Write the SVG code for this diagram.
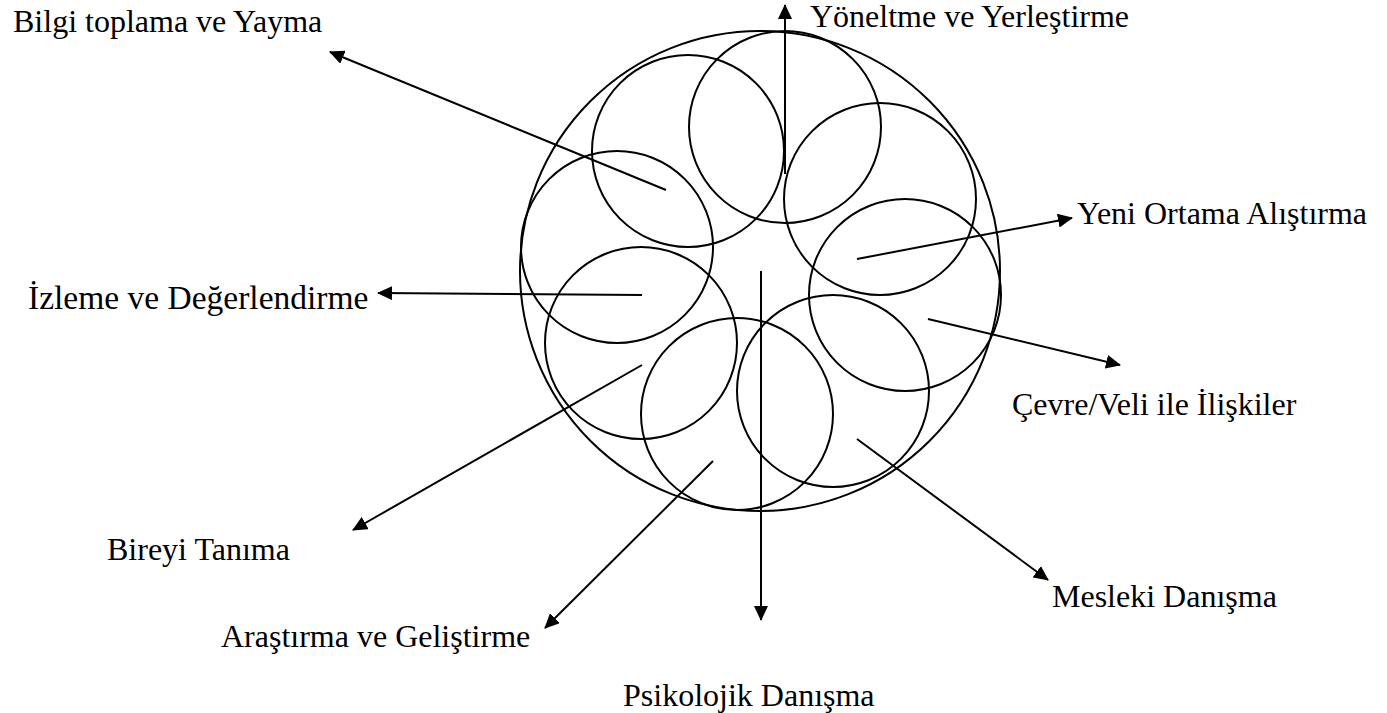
<svg xmlns="http://www.w3.org/2000/svg" width="1387" height="713" viewBox="0 0 1387 713">
<style>
.c{fill:none;stroke:#000;stroke-width:2}
.a{fill:none;stroke:#000;stroke-width:2;marker-end:url(#ah)}
.t{font-family:"Liberation Serif","Times New Roman",serif;font-size:32px;fill:#000}
</style>
<defs>
<marker id="ah" viewBox="0 0 15 14" refX="14" refY="7" markerWidth="15" markerHeight="14" markerUnits="userSpaceOnUse" orient="auto">
<path d="M0,0 L15,7 L0,14 Z" fill="#000"/>
</marker>
</defs>
<rect width="1387" height="713" fill="#fff"/>
<g id="outer"><circle class="c" cx="760" cy="271" r="240"/></g>
<g id="c-top"><circle class="c" cx="785" cy="127" r="96"/></g>
<g id="c-topleft"><circle class="c" cx="688" cy="151" r="96"/></g>
<g id="c-topright"><circle class="c" cx="880" cy="199" r="96"/></g>
<g id="c-right"><circle class="c" cx="905" cy="295" r="96"/></g>
<g id="c-bottomright"><circle class="c" cx="833" cy="391" r="96"/></g>
<g id="c-bottom"><circle class="c" cx="737" cy="414" r="96"/></g>
<g id="c-bottomleft"><circle class="c" cx="641" cy="343" r="96"/></g>
<g id="c-left"><circle class="c" cx="617" cy="247" r="96"/></g>
<g id="connectors">
<line class="a" x1="785" y1="174" x2="785" y2="5"/>
<line class="a" x1="666" y1="190" x2="330" y2="52"/>
<line class="a" x1="857" y1="259" x2="1072" y2="218"/>
<line class="a" x1="928" y1="319" x2="1120" y2="365"/>
<line class="a" x1="857" y1="439" x2="1048" y2="580"/>
<line class="a" x1="761" y1="271" x2="761" y2="620"/>
<line class="a" x1="713" y1="461" x2="545" y2="628"/>
<line class="a" x1="642" y1="365" x2="353" y2="530"/>
<line class="a" x1="642" y1="295" x2="378" y2="293"/>
</g>
<g id="l-bilgi"><text class="t" x="13" y="32">Bilgi toplama ve Yayma</text></g>
<g id="l-yoneltme"><text class="t" x="810" y="27">Yöneltme ve Yerleştirme</text></g>
<g id="l-yeni"><text class="t" x="1077" y="224">Yeni Ortama Alıştırma</text></g>
<g id="l-izleme"><text class="t" x="28" y="309" style="font-size:33.5px">İzleme ve Değerlendirme</text></g>
<g id="l-cevre"><text class="t" x="1012" y="415">Çevre/Veli ile İlişkiler</text></g>
<g id="l-bireyi"><text class="t" x="107" y="560">Bireyi Tanıma</text></g>
<g id="l-mesleki"><text class="t" x="1052" y="607">Mesleki Danışma</text></g>
<g id="l-arastirma"><text class="t" x="221" y="647">Araştırma ve Geliştirme</text></g>
<g id="l-psikolojik"><text class="t" x="623" y="706">Psikolojik Danışma</text></g>
</svg>
